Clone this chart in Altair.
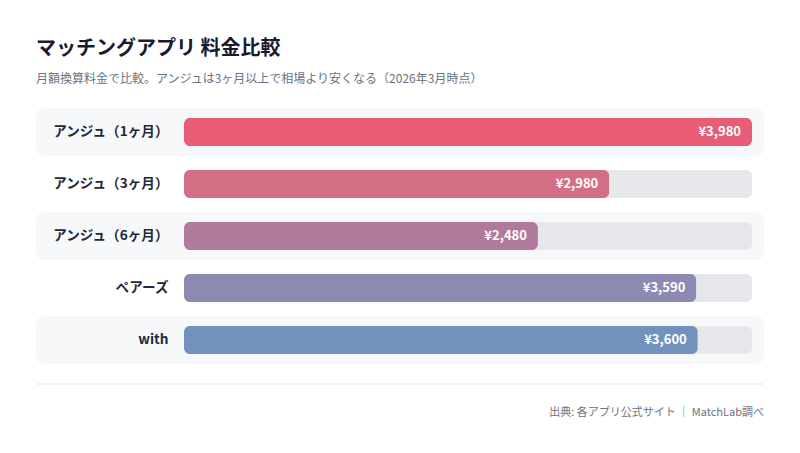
import altair as alt
import pandas as pd

plans = ["アンジュ（1ヶ月）", "アンジュ（3ヶ月）", "アンジュ（6ヶ月）", "ペアーズ", "with"]
prices = [3980, 2980, 2480, 3590, 3600]
bar_colors = ["#e85c75", "#d47086", "#b07a9c", "#8c89b2", "#7292be"]
striped = [True, False, True, False, True]

title_text = "マッチングアプリ 料金比較"
subtitle_text = "月額換算料金で比較。アンジュは3ヶ月以上で相場より安くなる（2026年3月時点）"
footer_text = "出典: 各アプリ公式サイト ｜ MatchLab調べ"

FONT = "Noto Sans CJK JP"
max_price = max(prices)

df = pd.DataFrame({
    "plan": plans,
    "price": prices,
    "color": bar_colors,
    "striped": striped,
    "track": [max_price] * len(plans),
})

y_enc = alt.Y(
    "plan:N",
    sort=plans,
    scale=alt.Scale(paddingInner=4 / 52, paddingOuter=2 / 52),
    axis=alt.Axis(
        title=None, domain=False, ticks=False, labelPadding=16,
        labelFont=FONT, labelFontSize=13.6, labelFontWeight="bold",
        labelColor="#1f2937", zindex=1, grid=False,
    ),
)
x_scale = alt.Scale(domain=[0, max_price], nice=False, zero=True)

base = alt.Chart(df)

stripes = base.transform_filter("datum.striped").mark_bar(
    color="#f7f8fa", cornerRadius=8
).encode(
    y=y_enc,
    x=alt.value(-148),
    x2=alt.value(580),
)

track = base.mark_bar(color="#e5e7eb", cornerRadius=6, size=28).encode(
    y=y_enc,
    x=alt.X("track:Q", scale=x_scale, axis=None),
)

bars = base.mark_bar(cornerRadius=6, size=28).encode(
    y=y_enc,
    x=alt.X("price:Q", scale=x_scale, axis=None),
    color=alt.Color("color:N", scale=None),
)

values = base.transform_calculate(
    lbl="'¥' + format(datum.price, ',')"
).mark_text(
    align="right", baseline="middle", dx=-11, color="white",
    font=FONT, fontSize=13, fontWeight="bold",
).encode(
    y=y_enc,
    x=alt.X("price:Q", scale=x_scale, axis=None),
    text="lbl:N",
)

foot_df = pd.DataFrame({"t": [footer_text]})
divider = alt.Chart(foot_df).mark_rule(color="#e5e7eb", strokeWidth=1).encode(
    x=alt.value(-148), x2=alt.value(580), y=alt.value(278)
)
footer = alt.Chart(foot_df).mark_text(
    align="right", baseline="middle", font=FONT, fontSize=11, color="#6b7280"
).encode(
    x=alt.value(580), y=alt.value(307), text="t:N"
)

chart = alt.layer(stripes, track, bars, values, divider, footer).properties(
    width=568,
    height=260,
    background="white",
    autosize=alt.AutoSizeParams(type="none"),
    padding={"left": 176, "top": 98, "right": 32, "bottom": 70},
    title=alt.TitleParams(
        text=title_text,
        subtitle=subtitle_text,
        anchor="start",
        frame="group",
        dx=-148,
        font=FONT,
        fontSize=20,
        fontWeight="bold",
        color="#1a1a2e",
        subtitleFont=FONT,
        subtitleFontSize=12,
        subtitleColor="#6b7280",
        subtitlePadding=15,
        offset=21,
    ),
).configure_view(strokeWidth=0, stroke="transparent")

chart.save("out.html", embed_options={"renderer": "svg", "actions": False})
